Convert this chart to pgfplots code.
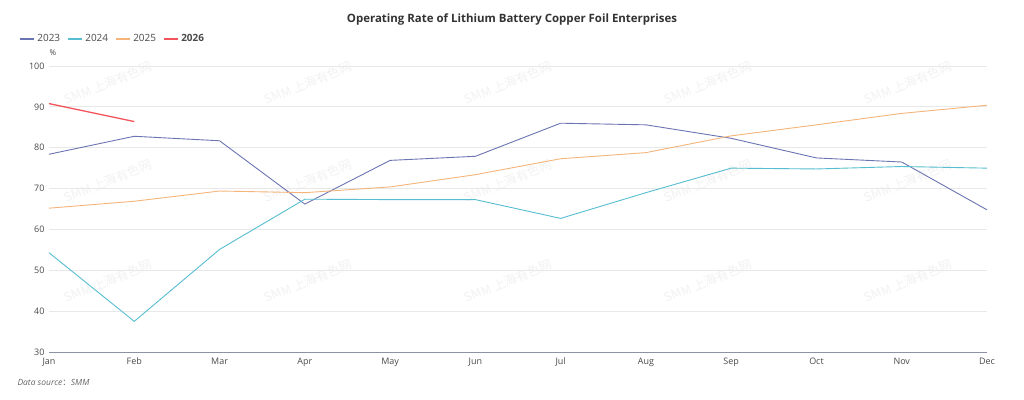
\documentclass[border=0pt]{standalone}
\usepackage{pgfplots}
\pgfplotsset{compat=1.18}
\usepackage{fontspec}
\setmainfont{Open Sans}
\newfontfamily\cjk{Noto Sans CJK SC}
\definecolor{c23}{HTML}{6B74B2}
\definecolor{c24}{HTML}{56BED0}
\definecolor{c25}{HTML}{F5B57A}
\definecolor{c26}{HTML}{F2545B}
\definecolor{gridc}{HTML}{E8E8E8}
\definecolor{axc}{HTML}{8D93A5}
\definecolor{txt}{HTML}{4A4A4A}
\begin{document}
\begin{tikzpicture}[x=1bp,y=1bp]
\path[use as bounding box, fill=white] (0,0) rectangle (1024,399);
% watermarks
\foreach \xx in {108,308,508,708,908}{
  \foreach \yy in {316,218,118}{
    \node[rotate=22, text=black!5, font=\cjk\fontsize{12.5}{12.5}\selectfont] at (\xx,\yy) {SMM 上海有色网};
  }
}
\begin{axis}[
  at={(49bp,47bp)}, anchor=south west,
  scale only axis, width=938bp, height=286bp,
  xmin=0, xmax=11, ymin=30, ymax=100,
  xtick={0,...,11},
  xticklabels={Jan,Feb,Mar,Apr,May,Jun,Jul,Aug,Sep,Oct,Nov,Dec},
  ytick={30,40,...,100},
  axis x line*=bottom,
  axis y line*=left,
  y axis line style={draw=none},
  ymajorgrids, grid style={gridc, line width=0.8pt},
  major tick length=0pt,
  tick style={draw=none},
  x axis line style={axc, line width=0.9pt, -},
  tick label style={font=\fontsize{9}{9}\selectfont, text=txt},
  xticklabel style={yshift=-2.5bp},
  yticklabel style={xshift=-1bp},
  /pgf/number format/assume math mode=true,
  legend style={draw=none, fill=none, at={(-33bp,313bp)}, anchor=west,
    legend columns=4, font=\fontsize{10}{10}\selectfont, text=txt,
    /tikz/every even column/.append style={column sep=5bp}},
  legend image code/.code={\draw[line width=2.2pt,#1] (0bp,0bp) -- (14bp,0bp);},
  clip=false,
]
\addplot[c23, line width=0.9pt] coordinates {(0,78.4) (1,82.8) (2,81.7) (3,66.2) (4,76.9) (5,77.9) (6,86.0) (7,85.6) (8,82.3) (9,77.5) (10,76.5) (11,64.8)};
\addplot[c24, line width=0.9pt] coordinates {(0,54.3) (1,37.5) (2,55.1) (3,67.4) (4,67.3) (5,67.3) (6,62.7) (7,69.0) (8,75.0) (9,74.8) (10,75.4) (11,75.0)};
\addplot[c25, line width=0.9pt] coordinates {(0,65.2) (1,66.9) (2,69.4) (3,69.0) (4,70.4) (5,73.4) (6,77.3) (7,78.8) (8,82.9) (9,85.6) (10,88.4) (11,90.4)};
\addplot[c26, line width=1.3pt] coordinates {(0,90.8) (1,86.4)};
\legend{2023,2024,2025,\textbf{2026}}
\end{axis}
\node[font=\bfseries\fontsize{11.5}{11.5}\selectfont, text=black!80] at (512,380) {Operating Rate of Lithium Battery Copper Foil Enterprises};
\node[font=\fontsize{8}{8}\selectfont, text=txt] at (53,346) {\%};
\node[anchor=west, font=\itshape\fontsize{8.5}{8.5}\selectfont, text=black!60] at (14,17) {Data source{\cjk ：}SMM};
\end{tikzpicture}
\end{document}
